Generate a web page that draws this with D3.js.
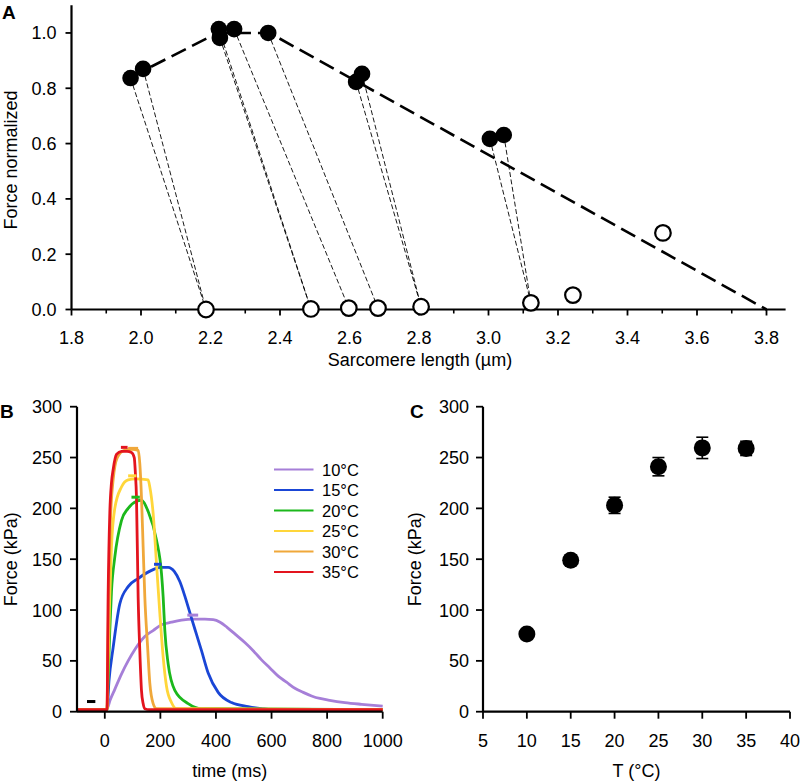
<!DOCTYPE html>
<html>
<head>
<meta charset="utf-8">
<script src="https://cdn.jsdelivr.net/npm/d3@7/dist/d3.min.js"></script>
<style>
  html, body { margin: 0; padding: 0; background: #fff; }
  svg { display: block; }
  text { font-family: "Liberation Sans", Arial, Helvetica, sans-serif; fill: #000; }
</style>
</head>
<body>
<svg id="chart" width="800" height="782"></svg>
<script>
// ---------------- Panel A data ----------------
const filledSL = [1.970, 2.006, 2.224, 2.227, 2.268, 2.366, 2.619, 2.636, 3.004, 3.044];
const filledF  = [0.837, 0.870, 1.014, 0.982, 1.014, 1.000, 0.823, 0.852, 0.617, 0.631];
const openSL   = [2.187, 2.489, 2.598, 2.682, 2.806, 3.122, 3.243, 3.502];
const openF    = [0.000, 0.002, 0.005, 0.005, 0.010, 0.024, 0.052, 0.277];
const linkFrom = [0, 1, 2, 3, 4, 5, 6, 7, 8, 9];
const linkTo   = [0, 0, 1, 1, 2, 3, 4, 4, 5, 5];
const modelSL  = [1.97, 2.22, 2.37, 3.80];
const modelF   = [0.84, 1.00, 1.00, 0.00];
const aXTicks  = [1.8, 2.0, 2.2, 2.4, 2.6, 2.8, 3.0, 3.2, 3.4, 3.6, 3.8];
const aYTicks  = [0.0, 0.2, 0.4, 0.6, 0.8, 1.0];

// ---------------- Panel B data ----------------
const tempLabels = ["10°C", "15°C", "20°C", "25°C", "30°C", "35°C"];
const tempColors = ["#A67FD8", "#1A46D6", "#1CB81C", "#FFD63A", "#F0A83A", "#E3141E"];
const t10 = [-100, 0, 6, 20, 36, 60, 84, 110, 144, 175, 204, 240, 276, 320, 360, 390, 415, 440, 470, 504, 534, 564, 594, 624, 654, 684, 714, 744, 774, 804, 864, 924, 1000];
const f10 = [2, 2, 2, 12, 22, 37, 50, 62, 74, 80, 85.5, 88, 90, 91, 91, 90.5, 88, 83, 76, 68, 60, 51, 43, 35, 29, 23, 19, 15.5, 13, 11.5, 9, 7.3, 5.5];
const t15 = [-100, 0, 8, 15, 30, 54, 84, 120, 168, 200, 228, 250, 270, 290, 312, 330, 348, 372, 408, 456, 516, 564, 600, 1000];
const f15 = [2, 2, 2, 30, 63, 106, 123, 131, 139, 142, 142, 138, 128, 112, 92, 76, 60, 38, 19, 9, 5, 3, 2, 2];
const t20 = [-100, 0, 8, 12, 18, 24, 36, 60, 84, 114, 132, 156, 186, 204, 210, 216, 228, 252, 300, 348, 1000];
const f20 = [2, 2, 2, 31, 80, 118, 152, 188, 200, 207, 208, 197, 169, 136, 113, 80, 47, 21, 8, 3, 2];
const t25 = [-100, 0, 8, 12, 18, 24, 36, 60, 84, 110, 156, 162, 174, 186, 198, 210, 222, 240, 258, 1000];
const f25 = [2, 2, 2, 50, 113, 162, 200, 221, 228, 229, 228, 221, 195, 146, 97, 54, 25, 9, 3, 2];
const t30 = [-100, 0, 8, 11, 15, 20, 30, 45, 70, 100, 120, 126, 132, 138, 144, 154, 162, 174, 186, 1000];
const f30 = [2, 2, 2, 60, 130, 185, 228, 250, 257, 258, 257, 244, 211, 162, 113, 64, 28, 8, 3, 2];
const t35 = [-100, 0, 8, 12, 18, 24, 30, 42, 60, 80, 96, 106, 110, 114, 120, 126, 132, 138, 144, 160, 1000];
const f35 = [2, 2, 2, 113, 195, 225, 238, 253, 256, 256, 255, 250, 235, 211, 113, 60, 21, 8, 3, 2, 2];
const seriesT = [t10, t15, t20, t25, t30, t35];
const seriesF = [f10, f15, f20, f25, f30, f35];
// short marker dashes near each peak
const markT0 = [297, 177, 96, 84, 84, 58];
const markT1 = [336, 204, 126, 114, 120, 82];
const markF  = [95, 145, 211, 232, 259, 260];
const blackMarkT = [-64, -34];
const blackMarkF = 10;
const bXTicks = [0, 200, 400, 600, 800, 1000];
const bYTicks = [0, 50, 100, 150, 200, 250, 300];

// ---------------- Panel C data ----------------
const cTemp  = [10, 15, 20, 25, 30, 35];
const cForce = [76.5, 149, 203, 241, 259.5, 259];
const cErr   = [3, 5, 8, 9, 10.5, 7];
const cXTicks = [5, 10, 15, 20, 25, 30, 35, 40];
const cYTicks = [0, 50, 100, 150, 200, 250, 300];

const TICK_FS = 18, TITLE_FS = 18;
const svg = d3.select("#chart");

// ================= Panel A =================
const xA = d3.scaleLinear([1.8, 3.8], [71.5, 766.5]);
const yA = d3.scaleLinear([0, 1.1], [309.5, 5.3]);
const gA = svg.append("g");

// thin dashed links
gA.selectAll("line.link").data(linkFrom).join("line")
  .attr("x1", (d) => xA(filledSL[d])).attr("y1", (d) => yA(filledF[d]))
  .attr("x2", (d, i) => xA(openSL[linkTo[i]])).attr("y2", (d, i) => yA(openF[linkTo[i]]))
  .attr("stroke", "#000").attr("stroke-width", 0.9).attr("stroke-dasharray", "5,2.5");

// thick dashed model line
gA.append("path")
  .datum(modelSL.map((s, i) => [s, modelF[i]]))
  .attr("d", d3.line().x(d => xA(d[0])).y(d => yA(d[1])))
  .attr("fill", "none").attr("stroke", "#000").attr("stroke-width", 2.6)
  .attr("stroke-dasharray", "16,7");

// axes
gA.append("line").attr("x1", xA(1.8)).attr("x2", xA(3.855)).attr("y1", yA(0)).attr("y2", yA(0))
  .attr("stroke", "#000").attr("stroke-width", 2.2);
gA.append("line").attr("x1", xA(1.8)).attr("x2", xA(1.8)).attr("y1", yA(0)).attr("y2", yA(1.1))
  .attr("stroke", "#000").attr("stroke-width", 2.2);
const aMinor = d3.range(19, 38, 2).map(v => v / 10);
gA.selectAll("line.aminor").data(aMinor).join("line")
  .attr("x1", d => xA(d)).attr("x2", d => xA(d)).attr("y1", yA(0)).attr("y2", yA(0) + 4)
  .attr("stroke", "#000").attr("stroke-width", 1.6);
gA.selectAll("line.axt").data(aXTicks).join("line")
  .attr("x1", d => xA(d)).attr("x2", d => xA(d)).attr("y1", yA(0)).attr("y2", yA(0) + 6)
  .attr("stroke", "#000").attr("stroke-width", 1.8);
gA.selectAll("text.axl").data(aXTicks).join("text")
  .attr("x", d => xA(d)).attr("y", yA(0) + 34).attr("text-anchor", "middle")
  .attr("font-size", TICK_FS).text(d => d.toFixed(1));
gA.selectAll("line.ayt").data(aYTicks).join("line")
  .attr("x1", xA(1.8) - 6).attr("x2", xA(1.8)).attr("y1", d => yA(d)).attr("y2", d => yA(d))
  .attr("stroke", "#000").attr("stroke-width", 1.8);
gA.selectAll("text.ayl").data(aYTicks).join("text")
  .attr("x", xA(1.8) - 15).attr("y", d => yA(d) + 6.5).attr("text-anchor", "end")
  .attr("font-size", TICK_FS).text(d => d.toFixed(1));

// markers
gA.selectAll("circle.open").data(openSL).join("circle")
  .attr("cx", d => xA(d)).attr("cy", (d, i) => yA(openF[i])).attr("r", 7.8)
  .attr("fill", "#fff").attr("stroke", "#000").attr("stroke-width", 2.2);
gA.selectAll("circle.filled").data(filledSL).join("circle")
  .attr("cx", d => xA(d)).attr("cy", (d, i) => yA(filledF[i])).attr("r", 8.3)
  .attr("fill", "#000");

gA.append("text").attr("x", 420).attr("y", 366).attr("text-anchor", "middle")
  .attr("font-size", TITLE_FS).text("Sarcomere length (µm)");
gA.append("text").attr("transform", "translate(17,160) rotate(-90)").attr("text-anchor", "middle")
  .attr("font-size", TITLE_FS).text("Force normalized");
gA.append("text").attr("x", 2).attr("y", 19).attr("font-size", 19).attr("font-weight", "bold").text("A");

// ================= Panel B =================
const xB = d3.scaleLinear([-100, 1000], [77, 382.7]);
const yB = d3.scaleLinear([0, 300], [711.7, 406.7]);
const gB = svg.append("g");
const lineB = d3.line().x(d => xB(d[0])).y(d => yB(d[1])).curve(d3.curveMonotoneX);

seriesT.forEach((ts, i) => {
  gB.append("path")
    .datum(ts.map((t, j) => [t, seriesF[i][j]]))
    .attr("d", lineB).attr("fill", "none").attr("stroke", tempColors[i])
    .attr("stroke-width", 2.8).attr("stroke-linejoin", "round");
});
tempColors.forEach((c, i) => {
  gB.append("line").attr("x1", xB(markT0[i])).attr("x2", xB(markT1[i]))
    .attr("y1", yB(markF[i])).attr("y2", yB(markF[i]))
    .attr("stroke", c).attr("stroke-width", 3);
});
gB.append("line").attr("x1", xB(blackMarkT[0])).attr("x2", xB(blackMarkT[1]))
  .attr("y1", yB(blackMarkF)).attr("y2", yB(blackMarkF)).attr("stroke", "#000").attr("stroke-width", 3);

// axes B
gB.append("line").attr("x1", xB(-100)).attr("x2", xB(1000)).attr("y1", yB(0)).attr("y2", yB(0))
  .attr("stroke", "#000").attr("stroke-width", 2.2);
gB.append("line").attr("x1", xB(-100)).attr("x2", xB(-100)).attr("y1", yB(0)).attr("y2", yB(300))
  .attr("stroke", "#000").attr("stroke-width", 2.2);
gB.selectAll("line.bxt").data(bXTicks).join("line")
  .attr("x1", d => xB(d)).attr("x2", d => xB(d)).attr("y1", yB(0)).attr("y2", yB(0) + 7)
  .attr("stroke", "#000").attr("stroke-width", 1.8);
gB.selectAll("text.bxl").data(bXTicks).join("text")
  .attr("x", d => xB(d)).attr("y", yB(0) + 35).attr("text-anchor", "middle")
  .attr("font-size", TICK_FS).text(d => d);
gB.selectAll("line.byt").data(bYTicks).join("line")
  .attr("x1", xB(-100) - 7).attr("x2", xB(-100)).attr("y1", d => yB(d)).attr("y2", d => yB(d))
  .attr("stroke", "#000").attr("stroke-width", 1.8);
gB.selectAll("text.byl").data(bYTicks).join("text")
  .attr("x", xB(-100) - 15).attr("y", d => yB(d) + 6.5).attr("text-anchor", "end")
  .attr("font-size", TICK_FS).text(d => d);
gB.append("text").attr("x", xB(450)).attr("y", 777).attr("text-anchor", "middle")
  .attr("font-size", TITLE_FS).text("time (ms)");
gB.append("text").attr("transform", `translate(17,${yB(150)}) rotate(-90)`).attr("text-anchor", "middle")
  .attr("font-size", TITLE_FS).text("Force (kPa)");
gB.append("text").attr("x", 0).attr("y", 418).attr("font-size", 19).attr("font-weight", "bold").text("B");

// legend B
tempLabels.forEach((lab, i) => {
  const ly = 469.5 + i * 20.5;
  gB.append("line").attr("x1", 274).attr("x2", 313.5).attr("y1", ly).attr("y2", ly)
    .attr("stroke", tempColors[i]).attr("stroke-width", 2.2);
  gB.append("text").attr("x", 322).attr("y", ly + 6).attr("font-size", 16.5).text(lab);
});

// ================= Panel C =================
const xC = d3.scaleLinear([5, 40], [483, 790]);
const yC = d3.scaleLinear([0, 300], [711.7, 406.7]);
const gC = svg.append("g");

gC.append("line").attr("x1", xC(5)).attr("x2", xC(40)).attr("y1", yC(0)).attr("y2", yC(0))
  .attr("stroke", "#000").attr("stroke-width", 2.2);
gC.append("line").attr("x1", xC(5)).attr("x2", xC(5)).attr("y1", yC(0)).attr("y2", yC(300))
  .attr("stroke", "#000").attr("stroke-width", 2.2);
gC.selectAll("line.cxt").data(cXTicks).join("line")
  .attr("x1", d => xC(d)).attr("x2", d => xC(d)).attr("y1", yC(0)).attr("y2", yC(0) + 7)
  .attr("stroke", "#000").attr("stroke-width", 1.8);
gC.selectAll("text.cxl").data(cXTicks).join("text")
  .attr("x", d => xC(d)).attr("y", yC(0) + 35).attr("text-anchor", "middle")
  .attr("font-size", TICK_FS).text(d => d);
gC.selectAll("line.cyt").data(cYTicks).join("line")
  .attr("x1", xC(5) - 7).attr("x2", xC(5)).attr("y1", d => yC(d)).attr("y2", d => yC(d))
  .attr("stroke", "#000").attr("stroke-width", 1.8);
gC.selectAll("text.cyl").data(cYTicks).join("text")
  .attr("x", xC(5) - 14).attr("y", d => yC(d) + 6.5).attr("text-anchor", "end")
  .attr("font-size", TICK_FS).text(d => d);

// error bars
cTemp.forEach((t, i) => {
  const x = xC(t), y0 = yC(cForce[i] - cErr[i]), y1 = yC(cForce[i] + cErr[i]);
  gC.append("line").attr("x1", x).attr("x2", x).attr("y1", y0).attr("y2", y1)
    .attr("stroke", "#000").attr("stroke-width", 1.6);
  [y0, y1].forEach(y => gC.append("line").attr("x1", x - 6).attr("x2", x + 6)
    .attr("y1", y).attr("y2", y).attr("stroke", "#000").attr("stroke-width", 1.6));
});
gC.selectAll("circle.c").data(cTemp).join("circle")
  .attr("cx", d => xC(d)).attr("cy", (d, i) => yC(cForce[i])).attr("r", 8.5).attr("fill", "#000");

gC.append("text").attr("x", xC(22.5)).attr("y", 777).attr("text-anchor", "middle")
  .attr("font-size", TITLE_FS).text("T (°C)");
gC.append("text").attr("transform", `translate(421,${yC(150)}) rotate(-90)`).attr("text-anchor", "middle")
  .attr("font-size", TITLE_FS).text("Force (kPa)");
gC.append("text").attr("x", 410).attr("y", 418).attr("font-size", 19).attr("font-weight", "bold").text("C");
</script>
</body>
</html>
